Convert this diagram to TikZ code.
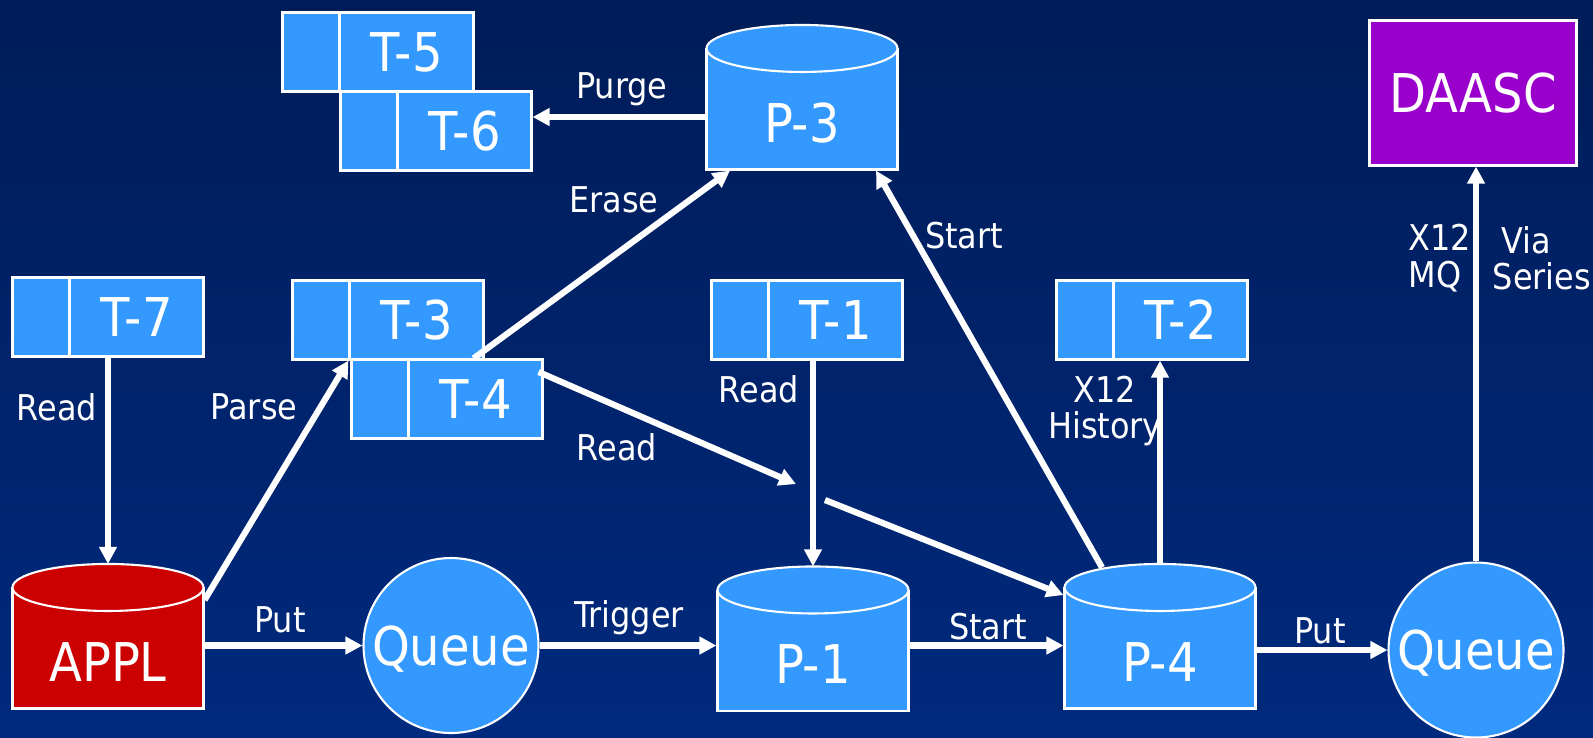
\documentclass[tikz,border=0pt]{standalone}
\usepackage{fontspec}
\setmainfont{DejaVu Sans Condensed}
\usetikzlibrary{arrows.meta}
\definecolor{navytop}{HTML}{001C58}
\definecolor{navybot}{HTML}{002A7E}
\definecolor{boxblue}{HTML}{3399FF}
\definecolor{applred}{HTML}{CC0000}
\definecolor{daascpurple}{HTML}{9900CC}
\newcommand{\bigtxt}{\fontsize{15.2}{17}\selectfont}
\newcommand{\smalltxt}{\fontsize{10.1}{10.3}\selectfont}
\tikzset{
tbox/.style={draw=white, line width=0.6pt, fill=boxblue, text=white, font=\bigtxt,
  minimum width=19.1mm, minimum height=7.9mm, inner sep=0pt,
  execute at begin node={\hspace*{5.7mm}},
  path picture={\draw[white, line width=0.6pt] ([xshift=5.7mm]path picture bounding box.north west) -- ([xshift=5.7mm]path picture bounding box.south west);}},
cyl/.style={draw=white, line width=0.6pt, fill=#1, text=white, font=\bigtxt,
  minimum width=19.1mm, minimum height=12mm, inner sep=0pt, text height=6.5mm, text depth=0pt},
cyltop/.style={draw=white, line width=0.6pt, fill=#1},
qcirc/.style={circle, draw=white, line width=0.6pt, fill=boxblue, text=white, font=\bigtxt,
  minimum size=17.5mm, inner sep=0pt, text depth=0pt},
arr/.style={white, line width=0.62mm, -{Triangle[length=1.7mm, width=1.7mm]}},
lbl/.style={text=white, font=\smalltxt, inner sep=0pt},
}

\begin{document}
\begin{tikzpicture}[x=0.1mm, y=-0.1mm]
    %background
    \fill[top color=navytop, bottom color=navybot] (0,0) rectangle (1593,737);
    \useasboundingbox (0,0) rectangle (1593,737);

    %node and label
    \node[tbox] (t5) at (378,52) {T-5};
    \node[tbox] (t6) at (436,131) {T-6};
    \node[cyl=boxblue] (p3) at (802,109.5) {P-3};
    \node[draw=white, line width=0.6pt, fill=daascpurple, text=white, font=\bigtxt,
          minimum width=20.7mm, minimum height=14.5mm] (daasc) at (1473,93) {DAASC};
    \node[tbox] (t7) at (108,317) {T-7};
    \node[tbox] (t3) at (388,320) {T-3};
    \node[tbox] (t4) at (447,399) {T-4};
    \node[tbox] (t1) at (807,320) {T-1};
    \node[tbox] (t2) at (1152,320) {T-2};
    \node[cyl=applred] (appl) at (108,648.5) {APPL};
    \node[qcirc] (q1) at (451,645.5) {Queue};
    \node[cyl=boxblue] (p1) at (813,651) {P-1};
    \node[cyl=boxblue] (p4) at (1160,648.5) {P-4};
    \node[qcirc] (q2) at (1476,650) {Queue};

    %cylinder tops
    \foreach \c/\f in {p3/boxblue, appl/applred, p1/boxblue, p4/boxblue}
        \draw[cyltop=\f] (\c.north) ellipse [x radius=9.55mm, y radius=2.35mm];

    \coordinate (rdmid) at (796,484);
    \coordinate (rdgap) at (825,500);

    %connectors
    \draw[arr] (t7.south) -- ([yshift=2.35mm]appl.north);
    \draw[arr] ([yshift=4.85mm]appl.east) -- ([xshift=5.7mm]t3.south west);
    \draw[arr] (appl.east |- q1.west) -- (q1.west);
    \draw[arr] (q1.east) -- (p1.west |- q1.east);
    \draw[arr] ([xshift=2.65mm]t4.north) -- ([xshift=-7.2mm]p3.south);
    \draw[arr] (p3.west |- 0,117) -- (t6.east |- 0,117);
    \draw[arr] ([xshift=-0.5mm, yshift=-1.35mm]t4.north east) -- (rdmid);
    \draw[arr] (rdgap) -- ([yshift=5.35mm]p4.west);
    \draw[arr] (t1.south -| p1.north) -- ([yshift=2.35mm]p1.north);
    \draw[arr] (p1.east |- q1.east) -- (p4.west |- q1.east);
    \draw[arr] ([xshift=-5.8mm, yshift=2mm]p4.north) -- ([xshift=7.4mm]p3.south);
    \draw[arr] ([yshift=2.35mm]p4.north) -- (p4.north |- t2.south);
    \draw[arr] (p4.east |- q2.west) -- (q2.west);
    \draw[arr] (q2.north) -- (q2.north |- daasc.south);

    %labels
    \node[lbl] (l-read7) at (57,407) {Read};
    \node[lbl] (l-parse) at (254,407) {Parse};
    \node[lbl] (l-put1) at (280,620) {Put};
    \node[lbl] (l-trig) at (629,618) {Trigger};
    \node[lbl] (l-erase) at (614,200) {Erase};
    \node[lbl] (l-purge) at (622,89) {Purge};
    \node[lbl] (l-read4) at (617,447) {Read};
    \node[lbl] (l-read1) at (759,389) {Read};
    \node[lbl] (l-start1) at (988,627) {Start};
    \node[lbl] (l-start3) at (964,236) {Start};
    \node[lbl, align=center] (l-hist) at (1105,411) {X12\\History};
    \node[lbl] (l-put2) at (1320,631) {Put};
    \node[lbl, align=left, anchor=west] (l-mq) at (1408,258) {X12\\MQ};
    \node[lbl, align=left, anchor=west] (l-via) at (1492,258) {\hspace*{0.9mm}Via\\Series};

\end{tikzpicture}
\end{document}
